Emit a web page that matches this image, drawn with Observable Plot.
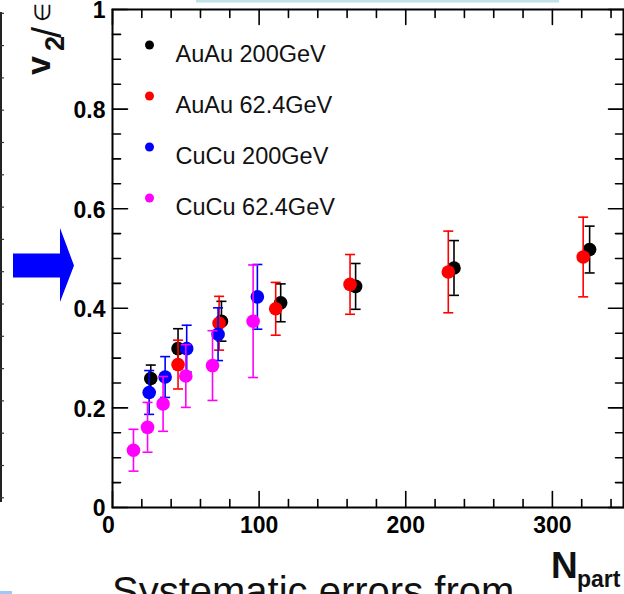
<!DOCTYPE html>
<html><head><meta charset="utf-8">
<script src="https://cdn.jsdelivr.net/npm/d3@7"></script>
<script src="https://cdn.jsdelivr.net/npm/@observablehq/plot@0.6"></script>
<style>
html,body{margin:0;padding:0;background:#fff;overflow:hidden;}
#chart{position:relative;width:624px;height:594px;}
</style></head><body><div id="chart"></div>
<script>
// ---- data ----
const seriesNames  = ["AuAu 200GeV", "AuAu 62.4GeV", "CuCu 200GeV", "CuCu 62.4GeV"];
const seriesColors = ["#000000", "#ff0000", "#0000ff", "#ff00ff"];

const npartAuAu200 = [26.1, 44.7, 74.3, 114.7, 165.8, 232.9, 325.4];
const v2AuAu200    = [0.259, 0.319, 0.374, 0.411, 0.444, 0.481, 0.518];
const errAuAu200   = [0.027, 0.040, 0.040, 0.038, 0.046, 0.055, 0.047];

const npartAuAu62  = [44.7, 72.7, 111.3, 162.0, 229.0, 321.0];
const v2AuAu62     = [0.287, 0.370, 0.399, 0.448, 0.473, 0.503];
const errAuAu62    = [0.049, 0.054, 0.053, 0.060, 0.082, 0.080];

const npartCuCu200 = [25.0, 35.9, 50.6, 72.0, 98.8];
const v2CuCu200    = [0.231, 0.262, 0.319, 0.348, 0.423];
const errCuCu200   = [0.044, 0.041, 0.047, 0.053, 0.065];

const npartCuCu62  = [14.3, 23.9, 34.5, 50.0, 68.2, 95.9];
const v2CuCu62     = [0.115, 0.161, 0.208, 0.264, 0.285, 0.374];
const errCuCu62    = [0.042, 0.050, 0.055, 0.063, 0.070, 0.113];

const xTickLabels = [0, 100, 200, 300];
const yTickLabels = [0, 0.2, 0.4, 0.6, 0.8, 1];
const xMinorStep = 20, yMinorStep = 0.05;

// ---- build table ----
const seriesData = [
  [npartAuAu200, v2AuAu200, errAuAu200],
  [npartAuAu62, v2AuAu62, errAuAu62],
  [npartCuCu200, v2CuCu200, errCuCu200],
  [npartCuCu62, v2CuCu62, errCuCu62]
];
const rowsBySeries = seriesData.map(([xs, vs, es], k) =>
  xs.map((x, i) => ({series: seriesNames[k], npart: x, v2: vs[i], err: es[i]})));

const xMinor = d3.range(0, 349, xMinorStep).filter(v => !xTickLabels.includes(v));
const yMinor = d3.range(0, 1.0001, yMinorStep).map(v => +v.toFixed(2)).filter(v => !yTickLabels.includes(v));

const tickShape = {draw(ctx, l) { ctx.moveTo(0, 0); ctx.lineTo(0, -l); }};
const capSymbol = {draw(ctx, size) { const w = Math.sqrt(size / Math.PI); ctx.moveTo(-w, 0); ctx.lineTo(w, 0); }};

function ticks(values, channel, frameAnchor, rotate, length) {
  return Plot.vector(values, {[channel]: d => d, frameAnchor, rotate, length, anchor: "start",
    shape: tickShape, stroke: "black", strokeWidth: 1.6});
}

const marks = [];
rowsBySeries.forEach(rows => {
  marks.push(Plot.ruleX(rows, {x: "npart", y1: d => d.v2 - d.err, y2: d => d.v2 + d.err, stroke: "series", strokeWidth: 1.6}));
  marks.push(Plot.dot(rows, {x: "npart", y: d => d.v2 + d.err, symbol: capSymbol, r: 5, stroke: "series", fill: "none", strokeWidth: 1.6}));
  marks.push(Plot.dot(rows, {x: "npart", y: d => d.v2 - d.err, symbol: capSymbol, r: 5, stroke: "series", fill: "none", strokeWidth: 1.6}));
  marks.push(Plot.dot(rows, {x: "npart", y: "v2", r: 6.8, fill: "series", stroke: "none"}));
});

// legend inside the frame
seriesNames.forEach((name, k) => {
  marks.push(Plot.dot([name], {frameAnchor: "top-left", dx: 37, dy: 35.5 + k * 51, r: 4.5, fill: d => d}));
  marks.push(Plot.text([name], {frameAnchor: "top-left", dx: 63, dy: 36 + k * 51, text: d => d,
    textAnchor: "start", fontSize: 23.5, fill: "#111"}));
});

// inward ticks on all four sides
marks.push(ticks(xTickLabels, "x", "bottom", 0, 16));
marks.push(ticks(xMinor, "x", "bottom", 0, 8));
marks.push(ticks(xTickLabels, "x", "top", 180, 15));
marks.push(ticks(xMinor, "x", "top", 180, 8));
marks.push(ticks(yTickLabels, "y", "left", 90, 15));
marks.push(ticks(yMinor, "y", "left", 90, 8));
marks.push(ticks(yTickLabels, "y", "right", -90, 15));
marks.push(ticks(yMinor, "y", "right", -90, 8));
marks.push(Plot.frame({stroke: "black", strokeWidth: 2}));

// tick labels
marks.push(Plot.axisY(yTickLabels, {tickSize: 0, tickPadding: 7, dy: 1.5, fontSize: 23, fontWeight: "bold", tickFormat: d => String(d), label: null}));
marks.push(Plot.axisX(xTickLabels.filter(v => v !== 0), {tickSize: 0, tickPadding: 9, fontSize: 23, fontWeight: "bold", tickFormat: d => String(d), label: null}));
marks.push(Plot.axisX(xTickLabels.filter(v => v === 0), {tickSize: 0, tickPadding: 9, dx: -4, fontSize: 23, fontWeight: "bold", tickFormat: d => String(d), label: null}));

const svg = Plot.plot({
  width: 624, height: 594,
  marginLeft: 112, marginRight: 1, marginTop: 9, marginBottom: 87,
  x: {domain: [0, 348.5], label: null},
  y: {domain: [0, 1], label: null},
  color: {domain: seriesNames, range: seriesColors},
  style: {fontFamily: "'Liberation Sans', Arial, Helvetica, sans-serif", color: "black", background: "white"},
  marks
});

// ---- decorations & titles ----
const s = d3.select(svg);
const ff = "'Liberation Sans', Arial, Helvetica, sans-serif";
// slide remnants
s.append("rect").attr("x", 196).attr("y", 0).attr("width", 363).attr("height", 2.5).attr("fill", "#bfe1e7");
s.append("rect").attr("x", 0).attr("y", 591).attr("width", 12).attr("height", 3).attr("fill", "#9ccaf3");
s.append("line").attr("x1", 1).attr("x2", 1).attr("y1", 12).attr("y2", 502).attr("stroke", "#222").attr("stroke-width", 2);
d3.range(13.3, 500, 32.3).forEach(y => s.append("line").attr("x1", 0).attr("x2", 4).attr("y1", y).attr("y2", y).attr("stroke", "#333").attr("stroke-width", 1.2));
s.append("path").attr("d", "M13,253.5H60V228L74,265.5L60,302V277.5H13Z").attr("fill", "#0000ff");
// y-axis title v2/∈
const t1 = (txt, x, y, size, weight) => s.append("text").attr("transform", `translate(${x},${y}) rotate(-90)`)
  .attr("text-anchor", "start").attr("font-family", ff).attr("font-size", size).attr("font-weight", weight).attr("fill", "#111").text(txt);
t1("v", 50, 75, 34, "bold");
t1("2", 64, 51, 27, "bold");
t1("/", 61, 38, 40, "normal");
t1("\u2208", 50, 22, 22, "normal");
// x-axis title N_part
const t2 = (txt, x, y, size, weight) => s.append("text").attr("x", x).attr("y", y).attr("text-anchor", "start")
  .attr("font-family", ff).attr("font-size", size).attr("font-weight", weight).attr("fill", "#111").text(txt);
t2("N", 551, 578, 37, "bold");
t2("part", 577, 587, 23, "bold");
// cut-off slide text
t2("Systematic errors from", 112, 605, 40, "normal");

document.getElementById("chart").appendChild(svg);
</script></body></html>
